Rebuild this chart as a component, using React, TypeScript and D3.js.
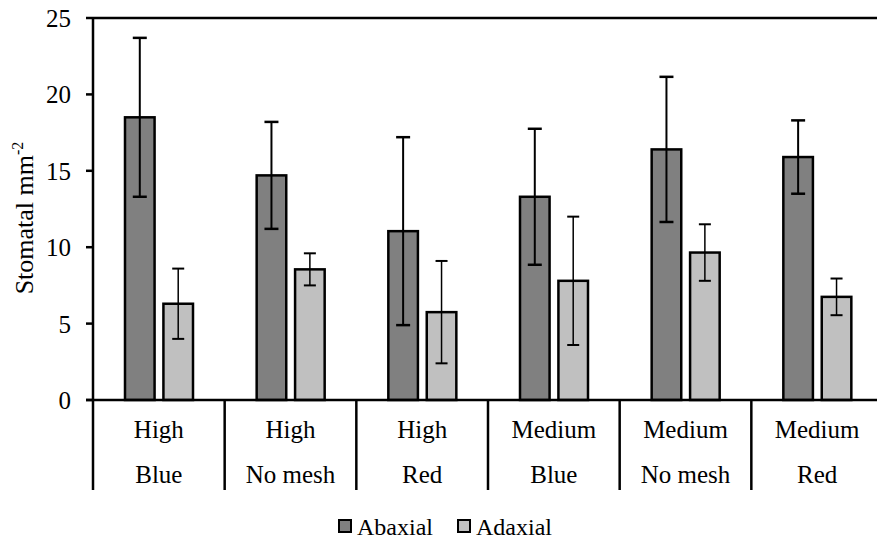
import React from 'react';
import * as d3 from 'd3';

const levels = ['High', 'High', 'High', 'Medium', 'Medium', 'Medium'];
const meshes = ['Blue', 'No mesh', 'Red', 'Blue', 'No mesh', 'Red'];
const abaxial = [18.5, 14.7, 11.05, 13.3, 16.4, 15.9];
const abaxialErr = [5.2, 3.5, 6.15, 4.45, 4.75, 2.4];
const adaxial = [6.3, 8.55, 5.75, 7.8, 9.65, 6.75];
const adaxialErr = [2.3, 1.05, 3.35, 4.2, 1.85, 1.2];
const yTicks = [0, 5, 10, 15, 20, 25];

export default function App() {
    const width = 877;
    const height = 541;
    const left = 93;
    const top = 18;
    const bottom = 400;
    const right = 883;
    const font = '"Liberation Serif", "Times New Roman", serif';
    const fs = 25;

    const idx = levels.map((d, i) => i);
    const x0 = d3.scaleBand<number>().domain(idx).range([left, right]).paddingInner(0).paddingOuter(0);
    const x1 = d3.scaleBand<string>().domain(['ab', 'ad']).range([32, 100]).paddingInner(0.23);
    const y = d3.scaleLinear().domain([0, 25]).range([bottom, top]);

    const series = [
        {key: 'ab', vals: abaxial, errs: abaxialErr, fill: '#808080', ew: 2, cap: 7},
        {key: 'ad', vals: adaxial, errs: adaxialErr, fill: '#c0c0c0', ew: 1.5, cap: 6},
    ];

    return (
        <svg width={width} height={height} style={{position: 'absolute', left: 0, top: 0, background: '#fff'}}>
            {/* frame */}
            <line x1={left} x2={width} y1={top} y2={top} stroke="#000" strokeWidth={2.5} />
            <line x1={left} x2={left} y1={top} y2={490} stroke="#000" strokeWidth={2.5} />
            {yTicks.map(t => (
                <g key={t}>
                    <line x1={left - 7} x2={left} y1={y(t)} y2={y(t)} stroke="#000" strokeWidth={2.5} />
                    <text x={71} y={y(t) + 9} textAnchor="end" fontFamily={font} fontSize={fs}>{t}</text>
                </g>
            ))}

            {/* bars */}
            {series.map(s => (
                <g key={s.key}>
                    {idx.map(i => {
                        const bx = x0(i)! + x1(s.key)!;
                        const bw = x1.bandwidth();
                        const cx = bx + bw / 2;
                        const v = s.vals[i];
                        const e = s.errs[i];
                        return (
                            <g key={i}>
                                <rect x={bx} y={y(v)} width={bw} height={y(0) - y(v)} fill={s.fill} stroke="#000" strokeWidth={2.5} />
                                <line x1={cx} x2={cx} y1={y(v + e)} y2={y(v - e)} stroke="#000" strokeWidth={s.ew} />
                                <line x1={cx - s.cap} x2={cx + s.cap} y1={y(v + e)} y2={y(v + e)} stroke="#000" strokeWidth={s.ew + 0.5} />
                                <line x1={cx - s.cap} x2={cx + s.cap} y1={y(v - e)} y2={y(v - e)} stroke="#000" strokeWidth={s.ew + 0.5} />
                            </g>
                        );
                    })}
                </g>
            ))}

            {/* x axis */}
            <line x1={left - 7} x2={width} y1={bottom} y2={bottom} stroke="#000" strokeWidth={2.5} />
            {idx.map(i => (
                <g key={i}>
                    {i > 0 && <line x1={x0(i)!} x2={x0(i)!} y1={bottom} y2={490} stroke="#000" strokeWidth={2.5} />}
                    <text x={x0(i)! + x0.bandwidth() / 2} y={438} textAnchor="middle" fontFamily={font} fontSize={fs}>{levels[i]}</text>
                    <text x={x0(i)! + x0.bandwidth() / 2} y={483} textAnchor="middle" fontFamily={font} fontSize={fs}>{meshes[i]}</text>
                </g>
            ))}

            {/* y title */}
            <text transform={`translate(33, 218) rotate(-90)`} textAnchor="middle" fontFamily={font} fontSize={26}>
                Stomatal mm<tspan dy={-10} fontSize={16}>-2</tspan>
            </text>

            {/* legend */}
            <rect x={339} y={520} width={12} height={12} fill="#808080" stroke="#000" strokeWidth={2} />
            <text x={357} y={535} fontFamily={font} fontSize={24}>Abaxial</text>
            <rect x={458} y={520} width={12} height={12} fill="#c0c0c0" stroke="#000" strokeWidth={2} />
            <text x={476} y={535} fontFamily={font} fontSize={24}>Adaxial</text>
        </svg>
    );
}
